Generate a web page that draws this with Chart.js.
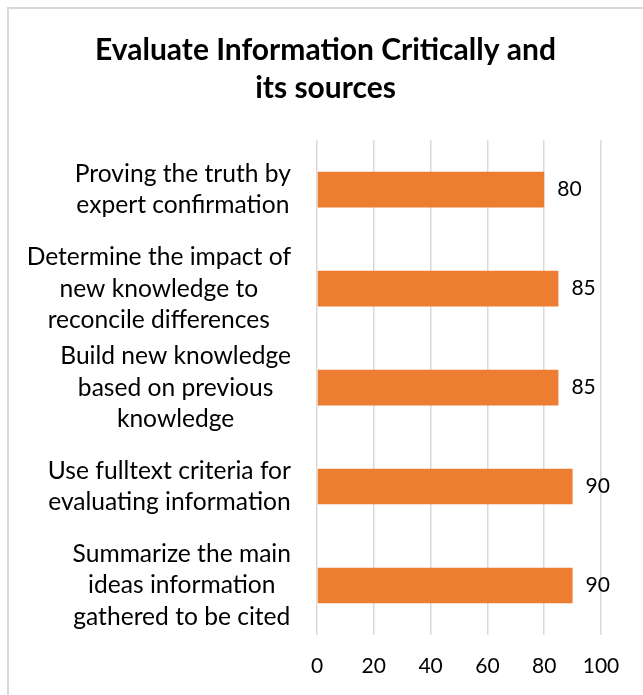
<!DOCTYPE html>
<html>
<head>
<meta charset="utf-8">
<script src="https://cdn.jsdelivr.net/npm/chart.js@4/dist/chart.umd.min.js"></script>
<style>
  html, body { margin: 0; padding: 0; background: #fff; }
  #wrap { position: relative; width: 643px; height: 695px; }
  #frame { position: absolute; left: 7px; top: 7px; width: 650px; height: 700px; border-left: 2px solid #D9D9D9; border-top: 2px solid #D9D9D9; pointer-events: none; }
  canvas { position: absolute; left: 0; top: 0; }
</style>
</head>
<body>
<div id="wrap">
  <canvas id="c" width="643" height="695"></canvas>
  <div id="frame"></div>
</div>
<script>
const titleLines = ["Evaluate Information Critically and", "its sources"];
const categories = [
  ["Proving the truth by", "expert confirmation"],
  ["Determine the impact of", "new knowledge to", "reconcile differences"],
  ["Build new knowledge", "based on previous", "knowledge"],
  ["Use fulltext criteria for", "evaluating information"],
  ["Summarize the main", "ideas information", "gathered to be cited"]
];
const values = [80, 85, 85, 90, 90];
const xTicks = [0, 20, 40, 60, 80, 100];

const FONT = "Lato, 'Open Sans', sans-serif";

const yLabelPlugin = {
  id: 'yLabels',
  afterDraw(chart) {
    const ctx = chart.ctx;
    const y = chart.scales.y;
    ctx.save();
    ctx.font = "24.6px " + FONT;
    ctx.fillStyle = "#000";
    ctx.textBaseline = "middle";
    ctx.textAlign = "center";
    const lh = 31.5;
    const right = chart.chartArea.left - 26;
    categories.forEach((lines, i) => {
      const cy = y.getPixelForTick(i);
      const w = Math.max(...lines.map(l => ctx.measureText(l).width));
      const cx = right - w / 2;
      lines.forEach((l, j) => {
        ctx.fillText(l, cx, cy + (j - (lines.length - 1) / 2) * lh);
      });
    });
    ctx.restore();
  }
};

const valueLabelPlugin = {
  id: 'valueLabels',
  afterDatasetsDraw(chart) {
    const ctx = chart.ctx;
    const meta = chart.getDatasetMeta(0);
    ctx.save();
    ctx.font = "21px " + FONT;
    ctx.fillStyle = "#000";
    ctx.textBaseline = "middle";
    ctx.textAlign = "left";
    meta.data.forEach((bar, i) => {
      ctx.fillText(String(values[i]), bar.x + 13, bar.y);
    });
    ctx.restore();
  }
};

new Chart(document.getElementById('c'), {
  type: 'bar',
  data: {
    labels: categories.map(c => c.join(' ')),
    datasets: [{
      data: values,
      backgroundColor: '#ED7D31',
      borderWidth: 0,
      categoryPercentage: 1,
      barPercentage: 0.36
    }]
  },
  options: {
    indexAxis: 'y',
    responsive: false,
    animation: false,
    layout: { padding: { left: 8, right: 0, top: 0, bottom: 0 } },
    plugins: {
      legend: { display: false },
      tooltip: { enabled: false },
      title: {
        display: true,
        text: titleLines,
        color: '#000',
        font: { family: FONT, size: 30, weight: 'bold', lineHeight: 1.27 },
        padding: { top: 31, bottom: 33 }
      }
    },
    scales: {
      x: {
        min: 0, max: 100,
        afterBuildTicks(scale) { scale.ticks = xTicks.map(v => ({ value: v })); },
        afterFit(scale) { scale.height = 60; },
        grid: { color: '#D9D9D9', lineWidth: 1.5, drawTicks: false },
        border: { display: false },
        ticks: { color: '#000', font: { family: FONT, size: 21 }, padding: 19 }
      },
      y: {
        afterFit(scale) { scale.width = 309; },
        grid: { display: false },
        border: { display: false },
        ticks: { display: false }
      },
      pad: {
        type: 'linear',
        position: 'right',
        display: true,
        afterFit(scale) { scale.width = 42; },
        grid: { display: false },
        border: { display: false },
        ticks: { display: false }
      }
    }
  },
  plugins: [yLabelPlugin, valueLabelPlugin]
});
</script>
</body>
</html>
